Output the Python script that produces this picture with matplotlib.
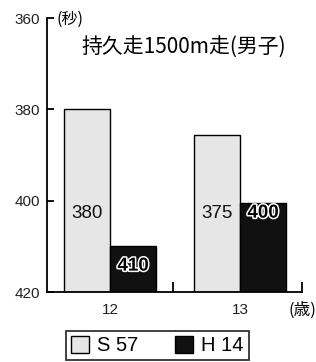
import matplotlib.pyplot as plt
import matplotlib.patheffects as pe
from matplotlib.patches import Patch

# data
ages = ['12', '13']
s57_bar = [380, 385.5]     # bar tops as drawn
h14_bar = [410, 400.5]
s57_labels = ['380', '375']
h14_labels = ['410', '400']

plt.rcParams['font.family'] = ['Liberation Sans', 'Noto Sans CJK JP', 'DejaVu Sans']
cjk = ['Noto Sans CJK JP', 'DejaVu Sans']

fig = plt.figure(figsize=(3.16, 3.62), dpi=100)
ax = fig.add_axes([0.1487, 0.193, 0.807, 0.757])

x = [0, 1]
w = 0.354
base = 420
ax.bar([i - w / 2 for i in x], [v - base for v in s57_bar], width=w, bottom=base,
       color='#e6e6e6', edgecolor='black', linewidth=1.0)
ax.bar([i + w / 2 for i in x], [v - base for v in h14_bar], width=w, bottom=base,
       color='#111111', edgecolor='black', linewidth=1.0)

ax.set_ylim(420, 360)
ax.set_xlim(-0.485, 1.477)

# value labels
for i in x:
    ax.text(i - w / 2, 402.7, s57_labels[i], ha='center', va='center',
            fontsize=13.5, color='#111111')
lab_y = [414.3, 402.7]
for i in x:
    ax.text(i + w / 2, lab_y[i], h14_labels[i], ha='center', va='center',
            fontsize=13.5, color='black', fontweight='bold',
            path_effects=[pe.Stroke(linewidth=2.2, foreground='white'), pe.Normal()])

ax.spines['top'].set_visible(False)
ax.spines['right'].set_visible(False)
ax.spines['left'].set_linewidth(1.3)
ax.spines['bottom'].set_linewidth(1.3)

ax.set_yticks([360, 380, 400, 420])
ax.tick_params(axis='y', direction='in', length=5, width=1.3, labelsize=11, pad=5,
               labelcolor='#222222')
ax.set_xticks(x)
ax.set_xticklabels(ages)
ax.tick_params(axis='x', length=0, labelsize=11, pad=8, labelcolor='#222222')
ax.set_xticks([0.485, 1.477], minor=True)
ax.tick_params(axis='x', which='minor', direction='in', length=7, width=1.3)

fig.text(57 / 316, 1 - 19 / 362, '(秒)', family=cjk, fontsize=11.5, ha='left', va='center')
fig.text(302 / 316, 1 - 310 / 362, '(歳)', family=cjk, fontsize=12, ha='center', va='center')
fig.text(0.581, 0.869, '持久走1500m走(男子)', family=cjk, fontsize=15, ha='center', va='center')

handles = [Patch(facecolor='#e6e6e6', edgecolor='black', linewidth=1.0, label='S 57'),
           Patch(facecolor='#111111', edgecolor='black', label='H 14')]
leg = fig.legend(handles=handles, loc='center', bbox_to_anchor=(0.498, 0.0456), ncol=2,
                 fontsize=14.5, frameon=True, fancybox=False, edgecolor='black',
                 handlelength=0.9, handleheight=0.9, handletextpad=0.4, columnspacing=1.8,
                 borderpad=0.25, borderaxespad=0)
leg.get_frame().set_linewidth(1.3)

fig.savefig('out.png', dpi=100)
